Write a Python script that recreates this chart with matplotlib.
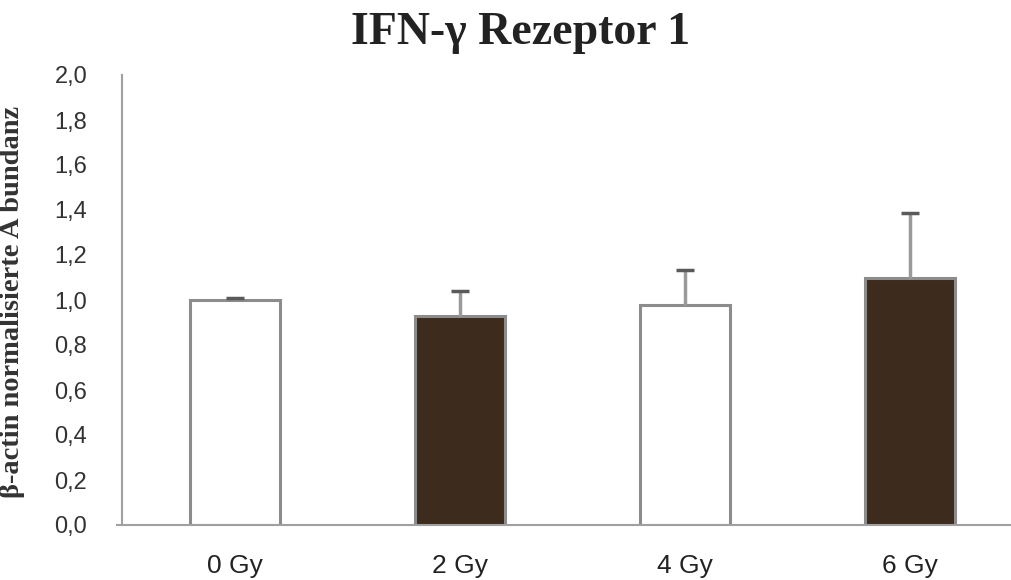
import numpy as np
import matplotlib
matplotlib.use("Agg")
import matplotlib.pyplot as plt
from matplotlib.ticker import FuncFormatter

# DATA
groups = ["0 Gy", "2 Gy", "4 Gy", "6 Gy"]
values = [1.00, 0.93, 0.98, 1.10]
errors = [0.01, 0.11, 0.155, 0.285]
fills = ["white", "#3d2b1d", "white", "#3d2b1d"]

# PLOTTING
fig = plt.figure(figsize=(10.11, 5.8), dpi=100)
ax = fig.add_axes([122/1011, 55/580, 889/1011, 450/580])

x = np.arange(len(groups))
ax.bar(x, values, width=0.4, color=fills, edgecolor="#8c8c8c", linewidth=2.2, zorder=2)
ax.errorbar(x, values, yerr=[np.zeros(len(errors)), errors], fmt="none",
            ecolor="#9a9a9a", elinewidth=2.5, capsize=0, zorder=3)
# caps drawn darker than the bar line
ax.errorbar(x, np.array(values) + np.array(errors), fmt="none", xerr=0.04,
            ecolor="#5a5a5a", elinewidth=2.5, zorder=4)

# axes formatting
ax.set_xlim(-0.5, 3.45)
ax.set_ylim(0, 2.0)
ax.set_yticks(np.arange(0, 2.01, 0.2))
ax.yaxis.set_major_formatter(FuncFormatter(lambda v, p: f"{v:.1f}".replace(".", ",")))
ax.set_xticks(x)
ax.set_xticklabels(groups)
ax.tick_params(axis="y", length=0, pad=25, labelsize=17, labelcolor="#333333")
ax.tick_params(axis="x", length=0, pad=21, labelsize=19, labelcolor="#222222")
for lab in ax.get_yticklabels() + ax.get_xticklabels():
    lab.set_family("Liberation Sans")

for s in ["top", "right"]:
    ax.spines[s].set_visible(False)
ax.spines["left"].set_color("#a0a0a0")
ax.spines["bottom"].set_color("#a0a0a0")
ax.spines["left"].set_linewidth(1.5)
ax.spines["bottom"].set_linewidth(1.5)
ax.spines["bottom"].set_bounds(-0.52, 3.45)

ax.set_ylabel("β-actin normalisierte A bundanz", family="Liberation Serif",
              fontweight="bold", fontsize=20.5, color="#333333")
ax.yaxis.set_label_coords(-97/889, 0.495)

fig.text(521/1011, 1 - 33/580, "IFN-γ Rezeptor 1", family="Liberation Serif",
         fontweight="bold", fontsize=33, color="#222222", ha="center", va="center")

fig.savefig("out.png", dpi=100)
